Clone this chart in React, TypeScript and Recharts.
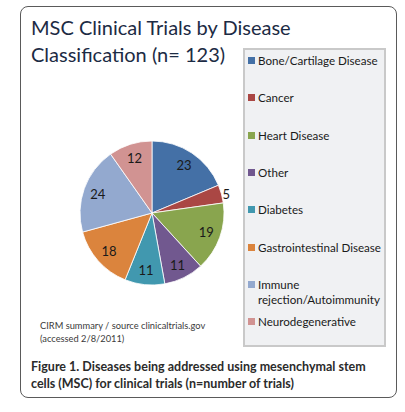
import React from 'react';
import { PieChart, Pie, Cell, Legend } from 'recharts';

const categories = [
  'Bone/Cartilage Disease',
  'Cancer',
  'Heart Disease',
  'Other',
  'Diabetes',
  'Gastrointestinal Disease',
  'Immune rejection/Autoimmunity',
  'Neurodegenerative',
];
const trials = [23, 5, 19, 11, 11, 18, 24, 12];
const colors = ['#4470A6', '#AA4744', '#89A54E', '#71588F', '#4198AF', '#DB843D', '#93A9CF', '#D19392'];

const data = categories.map((name, i) => ({ name, value: trials[i] }));

const FONT = 'Lato, "Open Sans", sans-serif';
const RAD = Math.PI / 180;

const renderLabel = (props: any) => {
  const { cx, cy, midAngle, outerRadius, value } = props;
  const r = value < 8 ? outerRadius + 1 : outerRadius * 0.8;
  const x = cx + r * Math.cos(-midAngle * RAD);
  const y = cy + r * Math.sin(-midAngle * RAD);
  return (
    <text x={x} y={y} fill="#1a1a1a" fontSize={13} fontFamily={FONT} textAnchor={value < 8 ? 'start' : 'middle'} dominantBaseline="central">
      {value}
    </text>
  );
};

// legend drawn from the category list so the order stays as in the data
const renderLegend = () => (
  <div
    style={{
      position: 'absolute',
      left: 243,
      top: 48,
      width: 139,
      height: 295,
      background: '#f0f1f3',
      border: '2px solid #c9c9c9',
      fontFamily: FONT,
      fontSize: 11.6,
      color: '#1a1a1a',
    }}
  >
    {categories.map((name, i) => (
      <div key={name} style={{ position: 'absolute', left: 3, top: 11 + 37.3 * i - 8, width: 150, lineHeight: '15px', whiteSpace: 'nowrap' }}>
        <span style={{ position: 'absolute', left: 0, top: 4, width: 7, height: 7, background: colors[i] }} />
        <span style={{ display: 'block', marginLeft: 10 }}>
          {name === 'Immune rejection/Autoimmunity' ? <>Immune<br />rejection/Autoimmunity</> : name}
        </span>
      </div>
    ))}
  </div>
);

export default function App() {
  return (
    <div style={{ position: 'absolute', left: 0, top: 0, width: 405, height: 412, background: '#fff' }}>
      <div
        style={{
          position: 'absolute',
          left: 20,
          top: 6,
          width: 375,
          height: 390,
          border: '1.5px solid #5a5a5a',
          borderRadius: 8,
        }}
      />
      <div style={{ position: 'absolute', left: 31, top: 14, fontFamily: FONT, fontSize: 20, lineHeight: '27px', color: '#1c2b44' }}>
        MSC Clinical Trials by Disease
        <br />
        Classification (n= 123)
      </div>
      <div style={{ position: 'absolute', left: 0, top: 0 }}>
        <PieChart width={405} height={412}>
          <Pie
            data={data}
            dataKey="value"
            nameKey="name"
            cx={147}
            cy={208}
            outerRadius={72}
            startAngle={90}
            endAngle={-270}
            stroke="#fff"
            strokeWidth={0.8}
            label={renderLabel}
            labelLine={false}
            isAnimationActive={false}
          >
            {data.map((d, i) => (
              <Cell key={d.name} fill={colors[i]} />
            ))}
          </Pie>
          <Legend content={renderLegend} wrapperStyle={{ position: 'absolute', left: 0, top: 0, width: 0, height: 0 }} />
        </PieChart>
      </div>
      <div style={{ position: 'absolute', left: 40, top: 319, fontFamily: FONT, fontSize: 9.3, lineHeight: '13px', color: '#3a3a3a' }}>
        CIRM summary / source clinicaltrials.gov
        <br />
        (accessed 2/8/2011)
      </div>
      <div style={{ position: 'absolute', left: 31, top: 358, fontFamily: FONT, fontSize: 12.5, fontWeight: 700, lineHeight: '17px', color: '#2b2b2b' }}>
        Figure 1. Diseases being addressed using mesenchymal stem
        <br />
        cells (MSC) for clinical trials (n=number of trials)
      </div>
    </div>
  );
}
